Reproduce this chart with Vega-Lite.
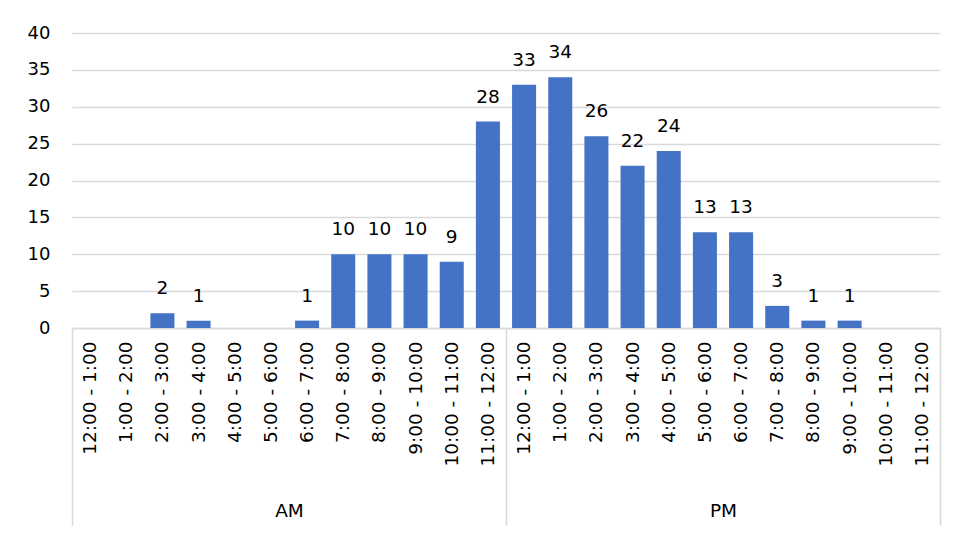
{
  "$schema": "https://vega.github.io/schema/vega-lite/v6.json",
  "autosize": {"type": "none"},
  "width": 868,
  "height": 295,
  "padding": {"left": 72, "top": 33, "right": 16, "bottom": 207},
  "background": "#ffffff",
  "config": {
    "view": {"stroke": null},
    "font": "DejaVu Sans",
    "axis": {"labelFont": "DejaVu Sans", "labelColor": "#000000", "titleFont": "DejaVu Sans"},
    "axisY": {"values": [0, 5, 10, 15, 20, 25, 30, 35, 40], "labelOverlap": false, "grid": true}
  },
  "layer": [
    {
      "data": {
        "values": [
          {"slot": "AM 12:00 - 1:00", "count": 0},
          {"slot": "AM 1:00 - 2:00", "count": 0},
          {"slot": "AM 2:00 - 3:00", "count": 2},
          {"slot": "AM 3:00 - 4:00", "count": 1},
          {"slot": "AM 4:00 - 5:00", "count": 0},
          {"slot": "AM 5:00 - 6:00", "count": 0},
          {"slot": "AM 6:00 - 7:00", "count": 1},
          {"slot": "AM 7:00 - 8:00", "count": 10},
          {"slot": "AM 8:00 - 9:00", "count": 10},
          {"slot": "AM 9:00 - 10:00", "count": 10},
          {"slot": "AM 10:00 - 11:00", "count": 9},
          {"slot": "AM 11:00 - 12:00", "count": 28},
          {"slot": "PM 12:00 - 1:00", "count": 33},
          {"slot": "PM 1:00 - 2:00", "count": 34},
          {"slot": "PM 2:00 - 3:00", "count": 26},
          {"slot": "PM 3:00 - 4:00", "count": 22},
          {"slot": "PM 4:00 - 5:00", "count": 24},
          {"slot": "PM 5:00 - 6:00", "count": 13},
          {"slot": "PM 6:00 - 7:00", "count": 13},
          {"slot": "PM 7:00 - 8:00", "count": 3},
          {"slot": "PM 8:00 - 9:00", "count": 1},
          {"slot": "PM 9:00 - 10:00", "count": 1},
          {"slot": "PM 10:00 - 11:00", "count": 0},
          {"slot": "PM 11:00 - 12:00", "count": 0}
        ]
      },
      "encoding": {
        "y": {
          "field": "count", "type": "quantitative",
          "scale": {"domain": [0, 40], "nice": false},
          "axis": {
            "title": null, "values": [0, 5, 10, 15, 20, 25, 30, 35, 40], "grid": true,
            "gridColor": "#d9d9d9", "gridWidth": 1.5, "domain": false, "ticks": false,
            "labelFontSize": 18, "labelPadding": 22, "labelOverlap": false
          }
        }
      },
      "layer": [
        {
          "mark": {"type": "bar", "color": "#4472C4"},
          "encoding": {
            "x": {
              "field": "slot", "type": "nominal", "sort": null,
              "scale": {"paddingInner": 0.336, "paddingOuter": 0.168},
              "axis": {
                "title": null, "labelAngle": -90, "labelAlign": "right", "labelBaseline": "middle",
                "labelExpr": "substring(datum.label, 3)", "labelFontSize": 18.5, "labelPadding": 13,
                "ticks": false, "domain": true, "domainColor": "#d9d9d9", "domainWidth": 1.5,
                "labelOverlap": false, "orient": "bottom"
              }
            }
          }
        },
        {
          "transform": [{"filter": "datum.count > 0"}],
          "mark": {"type": "text", "baseline": "alphabetic", "dy": -19, "fontSize": 18.5, "color": "#000000", "font": "DejaVu Sans"},
          "encoding": {
            "x": {"field": "slot", "type": "nominal", "sort": null},
            "text": {"field": "count", "type": "quantitative"}
          }
        }
      ]
    },
    {
      "data": {"values": [{"period": "AM", "mid": 6}, {"period": "PM", "mid": 18}]},
      "mark": {"type": "point", "opacity": 0},
      "encoding": {
        "x": {
          "field": "mid", "type": "quantitative",
          "scale": {"domain": [0, 24], "nice": false, "zero": false},
          "axis": {
            "title": null, "orient": "bottom", "offset": 0,
            "values": [0, 6, 12, 18, 24],
            "labelExpr": "datum.value == 6 ? 'AM' : (datum.value == 18 ? 'PM' : '')",
            "grid": false, "domain": false, "ticks": true, "tickSize": 197, "tickWidth": 1.5,
            "tickColor": "#d9d9d9",
            "tickOpacity": {"condition": {"test": "datum.value % 12 === 0", "value": 1}, "value": 0},
            "labelFontSize": 18.5, "labelBaseline": "alphabetic", "labelPadding": -9,
            "labelFlush": false, "labelOverlap": false
          }
        }
      }
    }
  ],
  "resolve": {"scale": {"x": "independent"}}
}
